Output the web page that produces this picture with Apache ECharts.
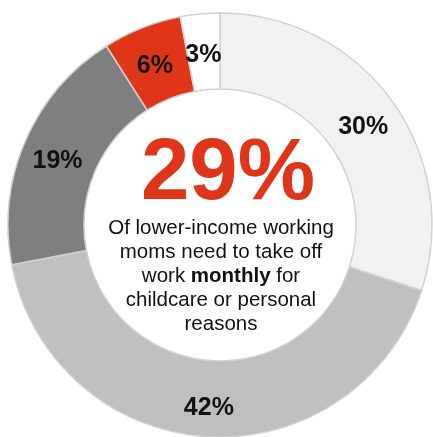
<!DOCTYPE html>
<html><head><meta charset="utf-8">
<script src="https://cdn.jsdelivr.net/npm/echarts@6/dist/echarts.min.js"></script>
<style>html,body{margin:0;padding:0;background:#fff}#c{width:433px;height:437px}</style>
</head><body><div id="c"></div>
<script>
var categories = ['A', 'B', 'C', 'D', 'E'];
var values = [30, 42, 19, 6, 3];
var colors = ['#f1f1f1', '#bfbfbf', '#7f7f7f', '#df361a', '#ffffff'];
var headline = '29%';
var bodyLines = ['Of lower-income working', 'moms need to take off', 'work {b|monthly} for', 'childcare or personal', 'reasons'];

var chart = echarts.init(document.getElementById('c'), null, {renderer: 'canvas'});
chart.setOption({
  animation: false,
  series: [{
    type: 'pie',
    center: [220, 225],
    radius: [136, 212],
    startAngle: 90,
    clockwise: true,
    silent: true,
    data: categories.map(function (c, i) {
      return {name: c, value: values[i], itemStyle: {color: colors[i]}};
    }),
    itemStyle: {borderColor: '#d2d2d2', borderWidth: 1.5},
    label: {
      show: true,
      position: 'inside',
      formatter: '{c}%',
      color: '#111',
      fontFamily: 'Liberation Sans, Arial, sans-serif',
      fontWeight: 'bold',
      fontSize: 25,
      offset: [0, 6]
    },
    labelLine: {show: false}
  }],
  graphic: [{
    type: 'text',
    x: 228, y: 175,
    style: {
      text: headline,
      textAlign: 'center',
      textVerticalAlign: 'middle',
      fill: '#df361a',
      fontFamily: 'Liberation Sans, Arial, sans-serif',
      fontWeight: 'bold',
      fontSize: 87
    }
  }, {
    type: 'text',
    x: 221, y: 276,
    style: {
      text: bodyLines.join('\n'),
      textAlign: 'center',
      textVerticalAlign: 'middle',
      fill: '#111',
      fontFamily: 'Liberation Sans, Arial, sans-serif',
      fontSize: 20.5,
      lineHeight: 24,
      rich: {
        b: {fontWeight: 'bold', fontSize: 20.5, fill: '#111', fontFamily: 'Liberation Sans, Arial, sans-serif', lineHeight: 24}
      }
    }
  }]
});
</script></body></html>
